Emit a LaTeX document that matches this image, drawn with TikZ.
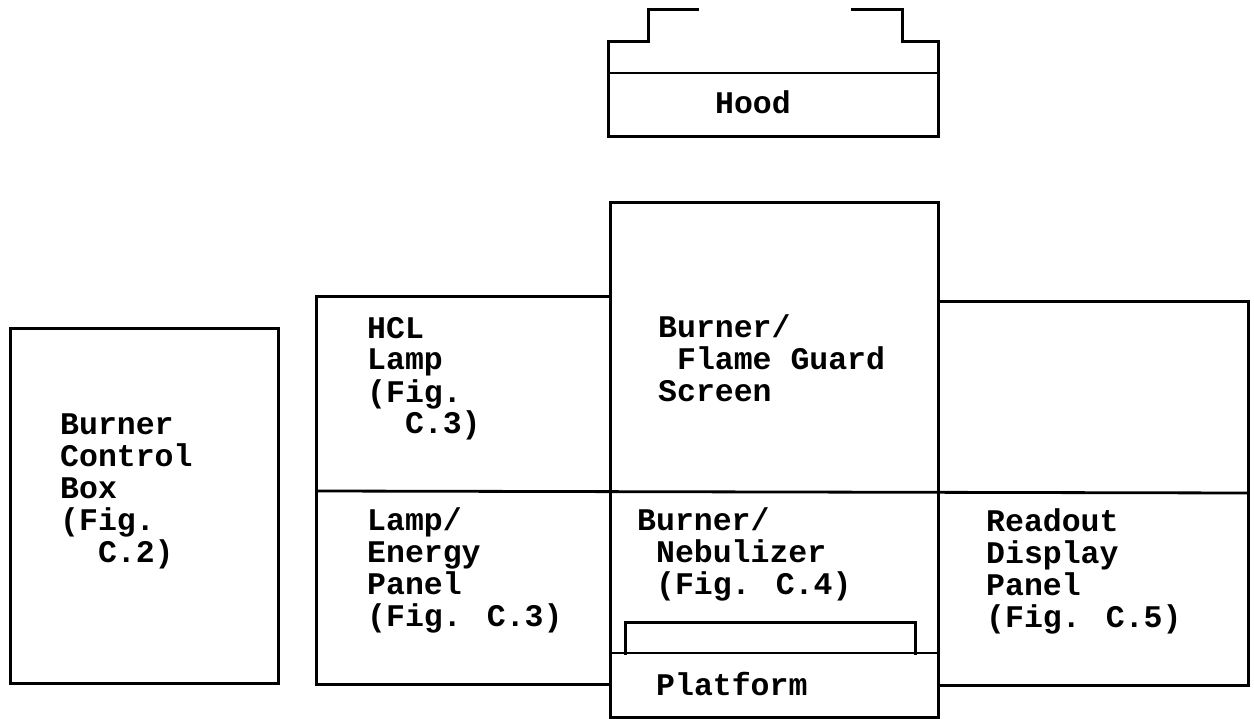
\documentclass[tikz,border=0pt]{standalone}
\usepackage{fontspec}
\newfontfamily\monobold{Liberation Mono}[BoldFont={Liberation Mono Bold}]
\newcommand{\lblfont}{\monobold\bfseries\fontsize{31.5}{32}\selectfont}
\begin{document}
\begin{tikzpicture}[x=1pt,y=-1pt,
  outline/.style={line width=3pt, line join=miter, line cap=rect},
  thin/.style={line width=2.8pt},
  lbl/.style={font=\lblfont, align=left, anchor=base west, inner sep=0pt}]
\useasboundingbox (0,0) rectangle (1254,719);
% Hood
\draw[outline] (697,10) -- (648,10) -- (648,42) -- (608,42) -- (608,137) -- (938,137) -- (938,42) -- (902,42) -- (902,10) -- (852,10);
\draw[thin] (608,73) -- (938,73);
\node[lbl, anchor=base] (hood) at (753,114) {Hood};
% Burner control box
\draw[outline] (10,329) rectangle (278,683);
\node[lbl] (bcb) at (60,562) {Burner\\Control\\Box\\(Fig.\\\phantom{(F}C.2)};
% Left panel
\draw[outline] (610,297) -- (316,297) -- (316,684) -- (610,684);
% Right panel
\draw[outline] (938,302) -- (1248,302) -- (1248,685) -- (938,685);
% Middle line
\draw[thin] (316,491) -- (1248,493);
% Center column
\draw[outline] (610,203) rectangle (938,717);
\draw[thin] (610,653) -- (938,653);
\draw[outline] (625,653) -- (625,622) -- (915,622) -- (915,653);
% Labels
\node[lbl] (hcl) at (367,434) {HCL\\Lamp\\(Fig.\\\phantom{(F}C.3)};
\node[lbl] (flame) at (658,402) {Burner/\\\phantom{B}Flame Guard\\Screen};
\node[lbl] (lamp) at (367,626) {Lamp/\\Energy\\Panel\\(Fig. C.3)};
\node[lbl] (neb) at (637,594) {Burner/\\\phantom{B}Nebulizer\\\phantom{B}(Fig. C.4)};
\node[lbl] (readout) at (986,627) {Readout\\Display\\Panel\\(Fig. C.5)};
\node[lbl] (platform) at (656,695) {Platform};
\end{tikzpicture}
\end{document}
